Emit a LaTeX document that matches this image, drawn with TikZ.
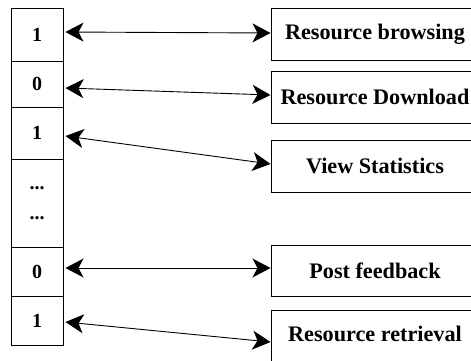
\documentclass[tikz,border=0pt]{standalone}
\usepackage{fontspec}
\setmainfont{Liberation Serif}
\usetikzlibrary{arrows.meta,calc}
\begin{document}
\begin{tikzpicture}[x=1pt,y=-1pt,
  cell/.style={draw,line width=1pt,inner sep=0pt,font=\fontsize{20}{21}\selectfont\bfseries},
  fbox/.style={draw,line width=1pt,inner sep=0pt,minimum width=208pt,font=\fontsize{22.2}{23}\selectfont\bfseries},
  link/.style={line width=0.9pt,{Stealth[length=18pt,width=19pt,inset=5pt]}-{Stealth[length=18pt,width=19pt,inset=5pt]}}]
\useasboundingbox (0,0) rectangle (471,360);
% left column
\node[cell,minimum width=52pt,minimum height=53pt] (c1) at (37,34.5) {1};
\node[cell,minimum width=52pt,minimum height=46pt] (c2) at (37,84) {0};
\node[cell,minimum width=52pt,minimum height=52pt] (c3) at (37,133) {1};
\node[cell,minimum width=52pt,minimum height=88pt,align=center] (c4) at (37,203) {\textbf{...}\\[9pt]\textbf{...}};
\node[cell,minimum width=52pt,minimum height=49pt] (c5) at (37,271.5) {0};
\node[cell,minimum width=52pt,minimum height=49pt] (c6) at (37,320.5) {1};
% right boxes
\node[fbox,minimum height=52pt] (r1) at (375,34) {Resource browsing};
\node[fbox,minimum height=52pt] (r2) at (375,97) {Resource Download};
\node[fbox,minimum height=52pt] (r3) at (375,166) {View Statistics};
\node[fbox,minimum height=51pt] (r4) at (375,270.5) {Post feedback};
\node[fbox,minimum height=52pt,text depth=0pt] (r5) at (375,336) {\raisebox{4pt}{Resource retrieval}};
% connectors
\draw[link] ($(c1.east)+(2,-2.5)$) -- ($(r1.west)+(0,-1)$);
\draw[link] ($(c2.east)+(2,4)$) -- ($(r2.west)+(0,-2)$);
\draw[link] ($(c3.east)+(2,3)$) -- ($(r3.west)+(0,-2)$);
\draw[link] ($(c5.east)+(2,-3.5)$) -- ($(r4.west)+(0,-2.5)$);
\draw[link] ($(c6.east)+(2,1.5)$) -- ($(r5.west)+(0,6)$);
\end{tikzpicture}
\end{document}
